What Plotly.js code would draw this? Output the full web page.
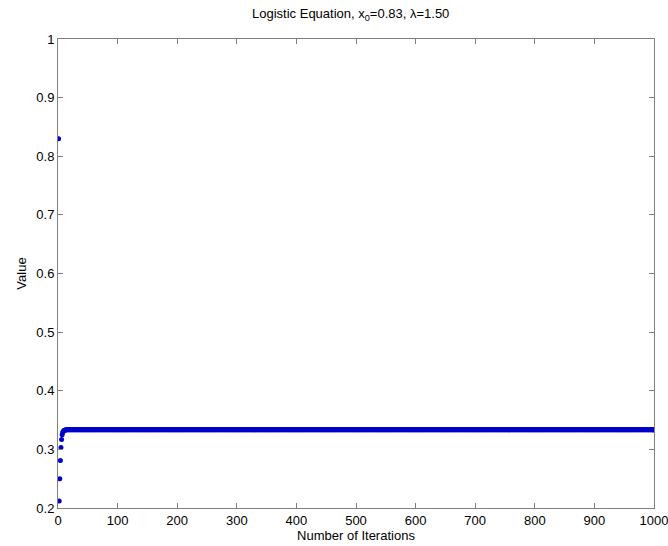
<!DOCTYPE html>
<html>
<head>
<meta charset="utf-8">
<script src="https://cdn.plot.ly/plotly-3.0.1.min.js"></script>
<style>html,body{margin:0;padding:0;background:#fff;}#chart{width:668px;height:546px;}</style>
</head>
<body>
<div id="chart"></div>
<script>
// Values: early transient iterations
const earlyValues = [0.83, 0.212, 0.250, 0.281, 0.303, 0.317, 0.325, 0.329, 0.331, 0.332, 0.3328, 0.3331, 0.3332];
const plateauValue = 0.3333;
const totalIterations = 1000;
const xTicks = [0, 100, 200, 300, 400, 500, 600, 700, 800, 900, 1000];
const yTicks = [0.2, 0.3, 0.4, 0.5, 0.6, 0.7, 0.8, 0.9, 1];

const values = earlyValues.concat(new Array(totalIterations - earlyValues.length).fill(plateauValue));
const iterations = values.map((v, i) => i + 1);

const axisCommon = {
  showline: true, linecolor: '#808080', linewidth: 1, mirror: 'ticks',
  ticks: 'inside', ticklen: 5, tickcolor: '#808080',
  showgrid: false, zeroline: false, ticklabeloverflow: 'allow',
  tickfont: {family: 'Liberation Sans, Arial, sans-serif', size: 13, color: '#000'}
};

Plotly.newPlot('chart', [{
  x: iterations, y: values, type: 'scatter', mode: 'markers',
  marker: {color: '#0000cc', size: 5}
}], {
  width: 668, height: 546,
  margin: {l: 58, r: 14, t: 39, b: 38},
  paper_bgcolor: '#fff', plot_bgcolor: '#fff',
  font: {family: 'Liberation Sans, Arial, sans-serif', size: 13, color: '#000'},
  title: {text: 'Logistic Equation, x<sub>0</sub>=0.83, λ=1.50', x: 0.525, xanchor: 'center', y: 0.975, yanchor: 'middle',
          font: {size: 13, color: '#000'}},
  xaxis: Object.assign({}, axisCommon, {
    range: [0, 1000], tickvals: xTicks, ticktext: xTicks.map(String),
    title: {text: 'Number of Iterations', standoff: 1, font: {size: 13}}
  }),
  yaxis: Object.assign({}, axisCommon, {
    range: [0.2, 1], tickvals: yTicks, ticktext: yTicks.map(String),
    title: {text: 'Value', standoff: 6, font: {size: 13}}
  }),
  showlegend: false
}, {displayModeBar: false});
</script>
</body>
</html>
